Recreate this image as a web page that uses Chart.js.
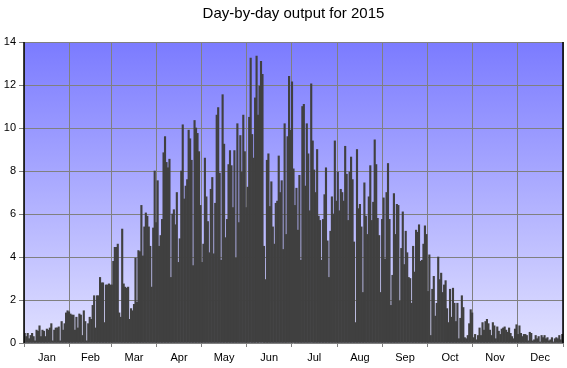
<!DOCTYPE html>
<html lang="en">
<head>
<meta charset="UTF-8">
<title>Day-by-day output for 2015</title>
<script src="https://cdn.jsdelivr.net/npm/chart.js@4"></script>
<style>
  html, body { margin: 0; padding: 0; background: #fff; }
  #chart { display: block; }
</style>
</head>
<body>
<canvas id="chart" width="567" height="368"></canvas>
<script>
// daily output, one array per month
const jan = [0.45,0.3,0.45,0.2,0.35,0.45,0.3,0.1,0.6,0.55,0.8,0.3,0.6,0.55,0.3,0.65,0.6,0.7,0.9,0.1,0.6,0.7,0.7,0.75,0.1,1.0,0.6,0.9,1.4,1.5,1.45];
const feb = [1.35,1.3,1.3,0.6,1.2,0.7,1.35,1.3,0.35,1.5,1.0,0.1,0.9,1.2,1.1,1.75,2.2,0.7,2.2,2.2,3.05,2.8,2.8,0.95,2.7,2.7,2.75,2.7];
const mar = [2.7,3.8,4.45,4.45,4.6,1.4,1.2,5.3,2.75,2.6,2.55,2.6,1.1,1.6,1.5,1.8,3.95,1.9,4.3,4.25,6.4,4.05,5.4,6.05,5.9,5.4,4.5,2.6,5.35,8.0,5.6];
const apr = [7.55,4.5,5.0,5.75,8.85,9.6,8.4,8.15,8.55,3.05,6.0,6.2,5.5,7.0,3.75,4.85,8.0,10.15,6.7,7.3,7.6,9.9,9.5,8.5,3.6,10.35,10.0,9.75,8.9,6.4];
const may = [3.75,4.6,8.6,6.8,5.65,4.2,7.15,7.7,4.15,6.5,10.6,10.95,7.9,3.85,11.55,9.25,4.9,5.75,8.3,8.95,8.25,6.3,8.95,3.95,10.2,5.6,9.65,7.95,10.6,8.9,6.3];
const jun = [7.25,10.5,13.25,9.7,8.6,11.4,13.35,10.6,11.95,13.1,12.5,4.5,2.95,8.5,8.8,6.35,7.5,5.4,4.6,6.5,6.6,8.7,7.0,7.55,4.35,10.2,5.05,9.6,12.4,9.9];
const jul = [12.15,8.1,6.4,7.2,5.25,7.8,3.85,11.0,11.1,7.3,10.2,8.8,6.15,12.05,9.4,8.05,7.0,9.0,5.9,5.7,3.85,5.75,6.9,8.15,4.75,3.05,5.2,6.8,6.0,9.4,6.6];
const aug = [7.95,6.15,7.15,7.0,6.6,9.15,7.85,5.7,7.95,8.65,7.6,4.7,0.95,9.0,6.25,6.45,5.4,2.35,7.45,5.9,5.05,6.8,8.25,5.7,6.55,9.45,8.3,5.8,5.0,2.35,5.75];
const sep = [6.75,3.9,7.0,8.35,5.75,1.75,3.15,6.95,5.05,6.45,6.4,1.95,4.4,6.1,3.65,5.2,4.2,3.05,3.0,1.85,4.5,3.3,5.25,5.15,5.5,3.8,3.85,4.6,5.45,5.05];
const oct = [2.4,4.1,0.35,2.5,3.1,1.25,1.85,4.0,2.95,3.25,2.35,2.7,2.9,1.6,0.95,2.5,1.2,2.55,1.85,1.0,1.85,0.2,1.15,2.2,1.65,0.25,0.2,0.35,0.9,1.55,1.4];
const nov = [0.25,0.4,0.15,0.35,0.7,0.35,0.95,0.6,1.0,1.1,0.9,0.6,0.35,0.95,0.8,0.2,0.75,0.55,0.4,0.65,0.7,0.75,0.6,0.5,0.7,0.45,0.3,0.2,0.65,0.85];
const dec = [0.4,0.8,0.45,0.3,0.4,0.4,0.35,0.1,0.5,0.45,0.1,0.15,0.35,0.2,0.3,0.05,0.35,0.25,0.35,0.2,0.25,0.1,0.15,0.25,0.05,0.2,0.25,0.2,0.35,0.15,0.4];

const months = ['Jan','Feb','Mar','Apr','May','Jun','Jul','Aug','Sep','Oct','Nov','Dec'];
const monthData = [jan, feb, mar, apr, may, jun, jul, aug, sep, oct, nov, dec];
const yTickMax = 14, yTickStep = 2;

// day offsets where each month starts, plus the end of the year
const monthStarts = [0];
monthData.forEach(m => monthStarts.push(monthStarts[monthStarts.length - 1] + m.length));
const monthMids = months.map((_, i) => (monthStarts[i] + monthStarts[i + 1]) / 2);
const daysInYear = monthStarts[monthStarts.length - 1];

const daily = monthData.flat();
const points = daily.map((v, i) => ({ x: i + 0.5, y: v }));

const isBoundary = v => monthStarts.includes(v);

Chart.defaults.font.family = "'Liberation Sans', Arial, Helvetica, sans-serif";
Chart.defaults.font.size = 11;
Chart.defaults.color = '#000';

// gradient plot background + black side borders
const plotFrame = {
    id: 'plotFrame',
    beforeDraw(chart) {
        const { ctx, chartArea: a } = chart;
        const g = ctx.createLinearGradient(0, a.top, 0, a.bottom);
        g.addColorStop(0, '#7b7bff');
        g.addColorStop(1, '#e0e0ff');
        ctx.save();
        ctx.fillStyle = g;
        ctx.fillRect(a.left, a.top, a.right - a.left, a.bottom - a.top);
        ctx.restore();
    },
    afterDraw(chart) {
        const { ctx, chartArea: a } = chart;
        ctx.save();
        ctx.strokeStyle = '#000';
        ctx.lineWidth = 1.5;
        ctx.beginPath();
        ctx.moveTo(a.left, a.top); ctx.lineTo(a.left, a.bottom);
        ctx.moveTo(a.right, a.top); ctx.lineTo(a.right, a.bottom);
        ctx.stroke();
        ctx.restore();
    }
};

new Chart(document.getElementById('chart'), {
    type: 'bar',
    data: {
        datasets: [{
            data: points,
            backgroundColor: '#404040',
            borderWidth: 0,
            barPercentage: 1,
            categoryPercentage: 1
        }]
    },
    options: {
        responsive: false,
        animation: false,
        layout: { padding: { right: 4 } },
        plugins: {
            legend: { display: false },
            tooltip: { enabled: false },
            title: {
                display: true,
                text: 'Day-by-day output for 2015',
                fullSize: false,
                color: '#000',
                font: { size: 15, weight: 'normal' },
                padding: { top: 5, bottom: 19 }
            }
        },
        scales: {
            x: {
                type: 'linear',
                min: 0,
                max: daysInYear,
                offset: false,
                afterBuildTicks: scale => {
                    scale.ticks = monthStarts.concat(monthMids).sort((a, b) => a - b).map(v => ({ value: v }));
                },
                afterFit: scale => { scale.height = 25; },
                ticks: {
                    autoSkip: false,
                    maxRotation: 0,
                    padding: 4,
                    callback: v => {
                        const i = monthMids.indexOf(v);
                        return i >= 0 ? months[i] : '';
                    }
                },
                grid: {
                    offset: false,
                    color: ctx => isBoundary(ctx.tick && ctx.tick.value) ? '#808080' : 'rgba(0,0,0,0)',
                    tickColor: ctx => isBoundary(ctx.tick && ctx.tick.value) ? '#808080' : 'rgba(0,0,0,0)',
                    tickLength: 4
                },
                border: { display: false }
            },
            y: {
                min: 0,
                max: yTickMax,
                afterFit: scale => { scale.width = 24; },
                ticks: { stepSize: yTickStep, padding: 3 },
                grid: { color: '#808080', tickColor: '#808080', tickLength: 5 },
                border: { display: false }
            }
        }
    },
    plugins: [plotFrame]
});
</script>
</body>
</html>
